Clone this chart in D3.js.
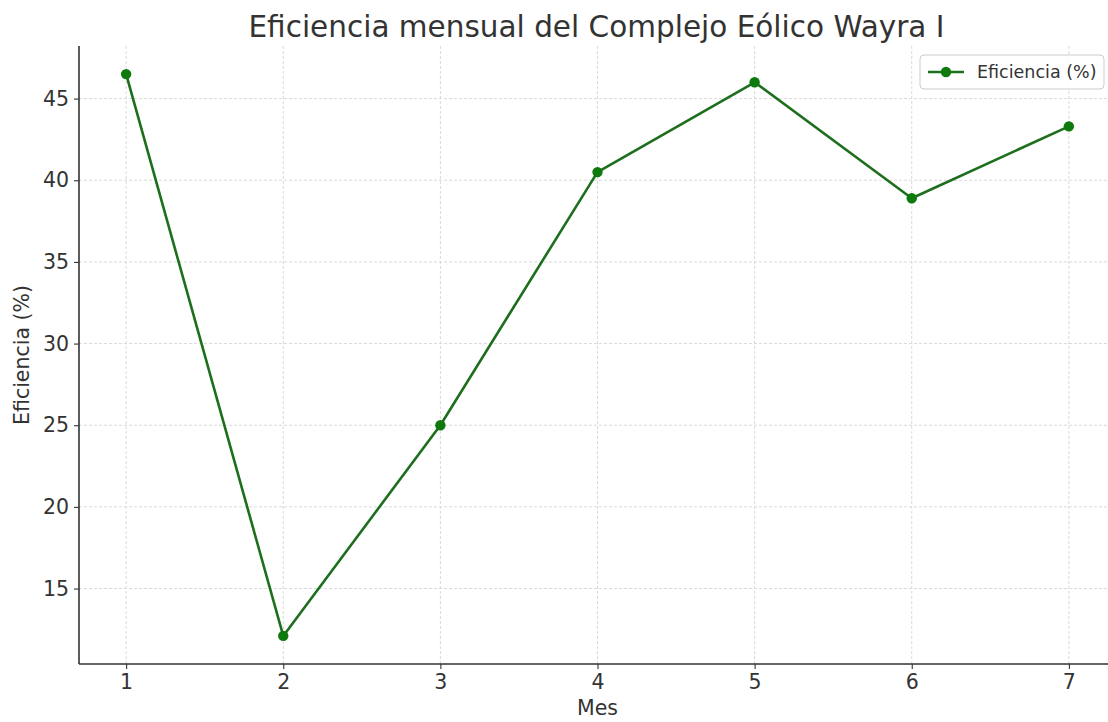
<!DOCTYPE html>
<html>
<head>
<meta charset="utf-8">
<script src="https://cdn.jsdelivr.net/npm/d3@7"></script>
<style>
html,body{margin:0;padding:0;background:#fff;}
svg{display:block;font-family:"DejaVu Sans",sans-serif;}
</style>
</head>
<body>
<svg id="chart" width="1108" height="722"></svg>
<script>
const months = [1, 2, 3, 4, 5, 6, 7];
const efficiency = [46.5, 12.1, 25.0, 40.5, 46.0, 38.9, 43.3];
const yTicks = [15, 20, 25, 30, 35, 40, 45];
const xTicks = [1, 2, 3, 4, 5, 6, 7];
const title = "Eficiencia mensual del Complejo Eólico Wayra I";
const xLabel = "Mes";
const yLabel = "Eficiencia (%)";
const seriesName = "Eficiencia (%)";

const svg = d3.select("#chart");
const pLeft = 79, pRight = 1116, pTop = 46, pBottom = 664;

const xPad = (d3.max(months) - d3.min(months)) * 0.05;
const x = d3.scaleLinear().domain([d3.min(months) - xPad, d3.max(months) + xPad]).range([pLeft, pRight]);
const yMin = d3.min(efficiency), yMax = d3.max(efficiency);
const yPad = (yMax - yMin) * 0.05;
const y = d3.scaleLinear().domain([yMin - yPad, yMax + yPad]).range([pBottom, pTop]);

// grid
const grid = svg.append("g");
grid.selectAll("line.gx").data(xTicks).join("line")
  .attr("x1", d => x(d)).attr("x2", d => x(d)).attr("y1", pTop).attr("y2", pBottom)
  .attr("stroke", "#d9d9d9").attr("stroke-width", 1).attr("stroke-dasharray", "3,2");
grid.selectAll("line.gy").data(yTicks).join("line")
  .attr("x1", pLeft).attr("x2", pRight).attr("y1", d => y(d)).attr("y2", d => y(d))
  .attr("stroke", "#d9d9d9").attr("stroke-width", 1).attr("stroke-dasharray", "3,2");

// axes
const xAxis = svg.append("g").attr("transform", `translate(0,${pBottom})`)
  .call(d3.axisBottom(x).tickValues(xTicks).tickFormat(d3.format("d")).tickSizeOuter(0).tickSize(5).tickPadding(5));
const yAxis = svg.append("g").attr("transform", `translate(${pLeft},0)`)
  .call(d3.axisLeft(y).tickValues(yTicks).tickFormat(d3.format("d")).tickSizeOuter(0).tickSize(5).tickPadding(5));
[xAxis, yAxis].forEach(a => {
  a.select(".domain").remove();
  a.selectAll(".tick line").attr("stroke", "#333").attr("stroke-width", 1.1);
  a.selectAll(".tick text").attr("fill", "#333").style("font-size", "20.5px").style("font-family", "DejaVu Sans");
});
// spines
svg.append("line").attr("x1", pLeft).attr("x2", pLeft).attr("y1", pTop).attr("y2", pBottom)
  .attr("stroke", "#333").attr("stroke-width", 1.6);
svg.append("line").attr("x1", pLeft).attr("x2", pRight).attr("y1", pBottom).attr("y2", pBottom)
  .attr("stroke", "#333").attr("stroke-width", 1.6);

// line
const lineGen = d3.line().x((d, i) => x(months[i])).y(d => y(d));
svg.append("path").datum(efficiency)
  .attr("d", lineGen).attr("fill", "none")
  .attr("stroke", "#1d6f1d").attr("stroke-width", 2.6).attr("stroke-linejoin", "round");
svg.selectAll("circle.pt").data(efficiency).join("circle")
  .attr("cx", (d, i) => x(months[i])).attr("cy", d => y(d)).attr("r", 5.2)
  .attr("fill", "#0e7a0e");

// title & labels
svg.append("text").attr("x", (pLeft + pRight) / 2 - 1).attr("y", 37).attr("text-anchor", "middle")
  .style("font-size", "29.5px").attr("fill", "#333").text(title);
svg.append("text").attr("x", (pLeft + pRight) / 2).attr("y", 715).attr("text-anchor", "middle")
  .style("font-size", "20.5px").attr("fill", "#333").text(xLabel);
svg.append("text").attr("transform", `translate(29,${(pTop + pBottom) / 2}) rotate(-90)`).attr("text-anchor", "middle")
  .style("font-size", "20.5px").attr("fill", "#333").text(yLabel);

// legend
const lg = svg.append("g").attr("transform", "translate(920,55)");
lg.append("rect").attr("width", 184).attr("height", 34).attr("rx", 4)
  .attr("fill", "#fff").attr("fill-opacity", 0.85).attr("stroke", "#ccc");
lg.append("line").attr("x1", 8).attr("x2", 44).attr("y1", 17).attr("y2", 17)
  .attr("stroke", "#1d6f1d").attr("stroke-width", 2.6);
lg.append("circle").attr("cx", 26).attr("cy", 17).attr("r", 5.2).attr("fill", "#0e7a0e");
lg.append("text").attr("x", 57).attr("y", 23).style("font-size", "17.5px").attr("fill", "#333").text(seriesName);
</script>
</body>
</html>
